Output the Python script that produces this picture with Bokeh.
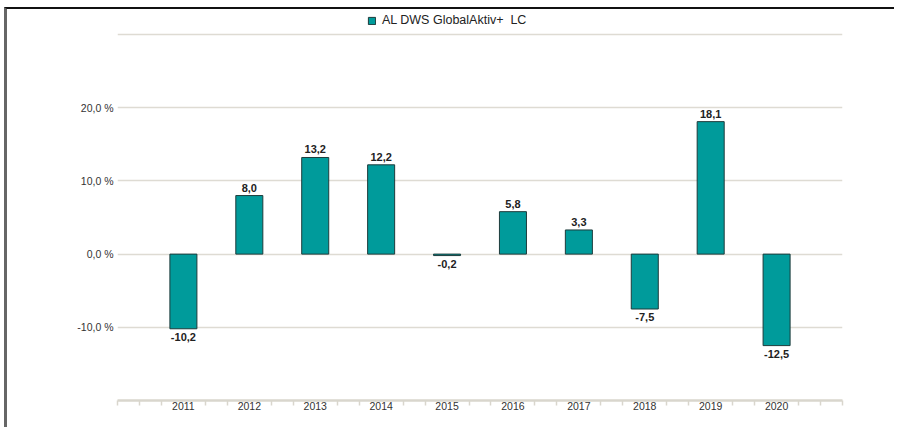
from bokeh.plotting import figure
from bokeh.models import (ColumnDataSource, FixedTicker, Range1d, Legend, LegendItem)
from bokeh.core.properties import value
from bokeh.embed import file_html
from bokeh.resources import INLINE

years = [2011, 2012, 2013, 2014, 2015, 2016, 2017, 2018, 2019, 2020]
returns = [-10.2, 8.0, 13.2, 12.2, -0.2, 5.8, 3.3, -7.5, 18.1, -12.5]
series_name = "AL DWS GlobalAktiv+  LC"
y_ticks = [-10, 0, 10, 20, 30]
y_tick_labels = {-10: "-10,0 %", 0: "0,0 %", 10: "10,0 %", 20: "20,0 %", 30: ""}

labels = [f"{v:.1f}".replace(".", ",") for v in returns]
src = ColumnDataSource(dict(x=years, top=returns, label=labels))
pos = ColumnDataSource(dict(x=[x for x, v in zip(years, returns) if v >= 0],
                            y=[v for v in returns if v >= 0],
                            label=[l for l, v in zip(labels, returns) if v >= 0]))
neg = ColumnDataSource(dict(x=[x for x, v in zip(years, returns) if v < 0],
                            y=[v for v in returns if v < 0],
                            label=[l for l, v in zip(labels, returns) if v < 0]))

FONT = "Liberation Sans"
GRID = "#dedbd3"

p = figure(width=890, height=420, output_backend="svg", toolbar_location=None,
           x_range=Range1d(2010, 2021), y_range=Range1d(-20, 33.42),
           min_border_left=110, min_border_right=55, min_border_top=0, min_border_bottom=29)
p.styles = {"border-top": "2px solid #111", "border-left": "3px solid #666",
            "margin-top": "7px", "margin-left": "4px"}
p.outline_line_color = None
p.background_fill_color = "white"
p.border_fill_color = "white"

r = p.vbar(x="x", top="top", bottom=0, width=0.41, source=src,
           fill_color="#009b9b", line_color="#1d3b3b", line_width=1)

p.text(x="x", y="y", text="label", source=pos, text_align="center", text_baseline="bottom",
       y_offset=-4, text_font=value(FONT), text_font_size="11px", text_font_style="bold",
       text_color="#222222")
p.text(x="x", y="y", text="label", source=neg, text_align="center", text_baseline="top",
       y_offset=4, text_font=value(FONT), text_font_size="11px", text_font_style="bold",
       text_color="#222222")

# y axis
p.yaxis.ticker = FixedTicker(ticks=y_ticks)
p.yaxis.major_label_overrides = y_tick_labels
p.yaxis.axis_line_color = None
p.yaxis.major_tick_line_color = None
p.yaxis.minor_tick_line_color = None
p.yaxis.major_tick_out = 0
p.yaxis.minor_tick_out = 0
p.yaxis.major_label_standoff = 4
p.yaxis.major_label_text_font = FONT
p.yaxis.major_label_text_font_size = "10.5px"
p.yaxis.major_label_text_color = "#333333"
p.ygrid.grid_line_color = GRID
p.ygrid.grid_line_width = 1.5
p.xgrid.grid_line_color = None

# x axis
minor = []
for k in range(0, 34):
    t = 2010 + k / 3
    if k % 3 == 0 and 2011 <= round(t) <= 2020:
        continue
    minor.append(round(t, 4))
p.xaxis.ticker = FixedTicker(ticks=years, minor_ticks=minor)
p.xaxis.axis_line_color = "#d9d6cd"
p.xaxis.axis_line_width = 2.5
p.xaxis.major_tick_line_color = None
p.xaxis.major_tick_out = 0
p.xaxis.major_tick_in = 0
p.xaxis.minor_tick_line_color = "#d9d6cd"
p.xaxis.minor_tick_line_width = 1.5
p.xaxis.minor_tick_out = 5
p.xaxis.minor_tick_in = 0
p.xaxis.major_label_standoff = -4
p.xaxis.major_label_text_font = FONT
p.xaxis.major_label_text_font_size = "10.5px"
p.xaxis.major_label_text_color = "#333333"

legend = Legend(items=[LegendItem(label=series_name, renderers=[r])],
                location=(250, 373), orientation="horizontal",
                glyph_width=9, glyph_height=9, label_height=9, label_standoff=6,
                padding=0, margin=0, spacing=0,
                background_fill_alpha=0, border_line_color=None,
                label_text_font=FONT, label_text_font_size="12.5px",
                label_text_color="#222222")
p.add_layout(legend, "center")

open("out.html", "w").write(file_html(p, INLINE))
